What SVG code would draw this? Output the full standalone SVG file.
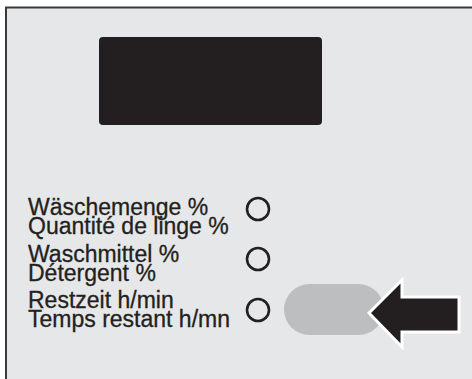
<svg xmlns="http://www.w3.org/2000/svg" width="472" height="379" viewBox="0 0 472 379">
<style>
.lbl{font-family:"Liberation Sans",Arial,Helvetica,sans-serif;font-size:23px;fill:#231f20;stroke:#231f20;stroke-width:0.3}
.led{fill:none;stroke:#231f20;stroke-width:2.6}
</style>
<rect x="0" y="0" width="472" height="379" fill="#ffffff"/>
<g id="panel">
<rect x="6" y="7.5" width="480" height="390" fill="#e6e7e8" stroke="#3a3a3a" stroke-width="2"/>
</g>
<g id="display">
<rect x="99" y="37" width="223" height="88" rx="4" fill="#231f20"/>
</g>
<g id="row1">
<text class="lbl" x="28" y="215">Wäschemenge %</text>
<text class="lbl" x="28" y="234">Quantité de linge %</text>
<circle class="led" cx="258" cy="209" r="11"/>
</g>
<g id="row2">
<text class="lbl" x="28" y="262">Waschmittel %</text>
<text class="lbl" x="28" y="281">Détergent %</text>
<circle class="led" cx="258" cy="259" r="11"/>
</g>
<g id="row3">
<text class="lbl" x="28" y="308">Restzeit h/min</text>
<text class="lbl" x="28" y="327">Temps restant h/mn</text>
<circle class="led" cx="258" cy="310" r="11"/>
</g>
<g id="button">
<rect x="284" y="284" width="100" height="51" rx="25.5" fill="#bcbec0"/>
</g>
<g id="connectors">
<polygon points="369,313 402,280 402,297 459,297 459,332 402,332 402,347" fill="#231f20" stroke="#ffffff" stroke-width="3" stroke-linejoin="miter"/>
</g>
</svg>
